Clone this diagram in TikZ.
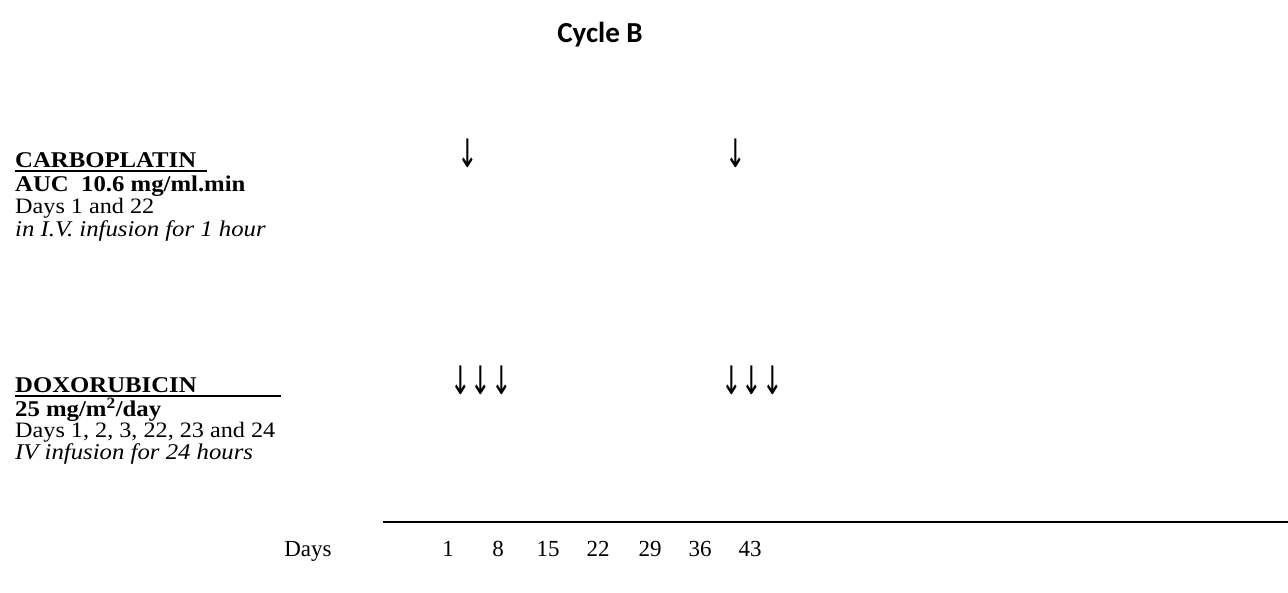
\documentclass[tikz,border=0pt]{standalone}
\usepackage{fontspec}
\setmainfont{Liberation Serif}
\newfontfamily\widefont{Liberation Serif}[FakeStretch=1.1]
\newfontfamily\titlefont{Carlito}
\newfontfamily\arrowfont{DejaVu Sans}
\newcommand{\dnarrow}{\scalebox{0.88}[1.4]{↓}}
\begin{document}
\begin{tikzpicture}[x=1pt,y=-1pt,
  txt/.style={anchor=base west,inner sep=0pt,font=\widefont\fontsize{22}{24}\selectfont},
  btxt/.style={anchor=base west,inner sep=0pt,font=\widefont\bfseries\fontsize{22.5}{24}\selectfont},
  itxt/.style={anchor=base west,inner sep=0pt,font=\widefont\itshape\fontsize{22.5}{24}\selectfont},
  lbl/.style={anchor=base,inner sep=0pt,font=\fontsize{23}{26}\selectfont},
  arr/.style={anchor=base west,inner sep=0pt,font=\arrowfont\fontsize{28}{30}\selectfont},
  uline/.style={line width=2pt},
  axis/.style={line width=2pt}]
\useasboundingbox (0,0) rectangle (1288,592);
\node[anchor=base,inner sep=0pt,font=\titlefont\bfseries\fontsize{29}{32}\selectfont] (title) at (600,42) {Cycle B};
% Carboplatin
\node[btxt] (carbo) at (15,167) {CARBOPLATIN};
\coordinate (cu1) at (15,171);
\coordinate (cu2) at (207,171);
\draw[uline] (cu1) -- (cu2);
\node[btxt] (auc) at (15,191) {AUC\ \ 10.6 mg/ml.min};
\node[txt] (cdays) at (15,213) {Days 1 and 22};
\node[itxt] (cinf) at (15,236) {in I.V. infusion for 1 hour};
% Doxorubicin
\node[btxt] (doxo) at (15,392) {DOXORUBICIN};
\coordinate (du1) at (15,396);
\coordinate (du2) at (281,396);
\draw[uline] (du1) -- (du2);
\node[btxt] (dose) at (15,416) {25 mg/m\textsuperscript{2}/day};
\node[txt] (ddays) at (15,437) {Days 1, 2, 3, 22, 23 and 24};
\node[itxt] (dinf) at (15,459) {IV infusion for 24 hours};
% arrows
\node[arr] (ca1) at (457,167) {\dnarrow};
\node[arr] (ca2) at (725,167) {\dnarrow};
\node[arr] (da1) at (450,394) {\dnarrow\dnarrow\dnarrow};
\node[arr] (da2) at (721,394) {\dnarrow\dnarrow\dnarrow};
% axis
\coordinate (ax1) at (383,522);
\coordinate (ax2) at (1288,522);
\draw[axis] (ax1) -- (ax2);
\node[lbl] (days) at (308,556) {Days};
\node[lbl] (d1) at (448,556) {1};
\node[lbl] (d8) at (498,556) {8};
\node[lbl] (d15) at (548,556) {15};
\node[lbl] (d22) at (598,556) {22};
\node[lbl] (d29) at (650,556) {29};
\node[lbl] (d36) at (700,556) {36};
\node[lbl] (d43) at (750,556) {43};
\end{tikzpicture}
\end{document}
